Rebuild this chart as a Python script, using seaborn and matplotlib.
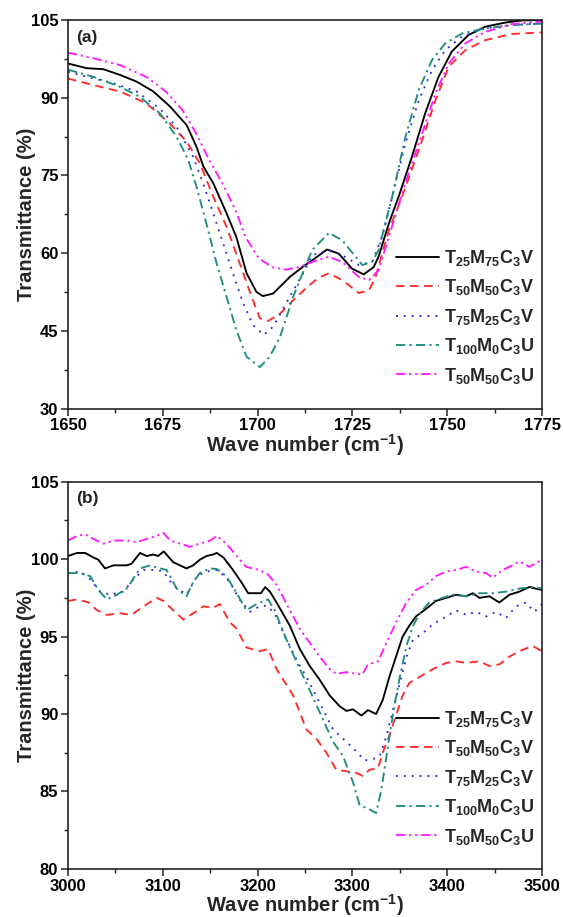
import numpy as np
import pandas as pd
import matplotlib
matplotlib.use("Agg")
import matplotlib.pyplot as plt
from matplotlib.ticker import MultipleLocator
import seaborn as sns

# ---------------- (a) C=O stretching region ----------------
wn_a_black = [1650, 1654.9, 1659.3, 1663.7, 1668.1, 1672.5, 1676.9, 1681.3, 1683.9, 1685.7, 1688.3,
              1691.8, 1694.4, 1697.1, 1699.7, 1701.4, 1704.1, 1708.5, 1712.0, 1714.4, 1718.3, 1721.4,
              1724.9, 1728.0, 1730.6, 1731.9, 1734.6, 1737.2, 1740.7, 1744.2, 1747.7, 1751.2, 1755.6,
              1760.0, 1765.3, 1769.6, 1775]
t_a_black = [96.6, 95.7, 95.5, 94.4, 93.1, 91.2, 88.3, 84.7, 80.5, 76.7, 73.5,
             67.7, 63.1, 56.1, 52.5, 51.7, 52.2, 55.4, 57.4, 58.6, 60.7, 59.9,
             57.0, 55.9, 57.3, 59.3, 65.7, 70.9, 78.6, 87.0, 94.0, 98.9, 102.1,
             103.7, 104.5, 104.9, 105.0]

wn_a_red = [1650, 1656.8, 1663.7, 1670.7, 1676.9, 1681.3, 1684.8, 1688.3, 1691.8, 1695.3, 1698.4,
            1700.6, 1702.8, 1705.9, 1709.4, 1713.3, 1716.0, 1718.8, 1722.3, 1726.7, 1729.4, 1731.1,
            1734.6, 1738.1, 1742.5, 1746.9, 1750.4, 1754.8, 1760.0, 1767.0, 1775]
t_a_red = [93.7, 92.4, 91.2, 88.9, 85.0, 81.5, 77.3, 70.9, 65.1, 58.0, 51.6,
           47.4, 46.9, 48.3, 50.9, 53.6, 55.2, 56.1, 54.8, 52.3, 52.8, 55.4,
           64.4, 70.9, 79.9, 89.5, 96.0, 99.2, 101.1, 102.3, 102.6]

wn_a_blue = [1650, 1656.8, 1662.0, 1668.1, 1674.2, 1678.6, 1683.0, 1685.6, 1688.3, 1690.9, 1693.5,
             1696.2, 1698.8, 1701.6, 1704.1, 1708.5, 1712.0, 1714.4, 1718.8, 1722.3, 1726.7, 1730.2,
             1732.8, 1735.5, 1739.0, 1742.5, 1746.0, 1749.5, 1753.9, 1760.0, 1767.0, 1775]
t_a_blue = [95.0, 93.7, 92.8, 91.2, 87.9, 84.4, 78.6, 73.5, 67.7, 61.9, 56.1,
            50.3, 46.1, 44.2, 45.8, 51.6, 56.1, 59.6, 60.6, 59.6, 57.7, 58.3,
            63.1, 70.9, 81.2, 89.5, 95.3, 99.2, 101.8, 103.4, 104.0, 104.4]

wn_a_teal = [1650, 1656.8, 1663.7, 1668.9, 1674.2, 1678.6, 1681.7, 1683.9, 1686.5, 1689.2, 1691.8,
             1694.4, 1697.1, 1700.6, 1703.2, 1705.9, 1709.4, 1712.9, 1714.4, 1718.8, 1722.3, 1727.6,
             1730.2, 1731.9, 1735.5, 1739.0, 1742.5, 1746.0, 1749.5, 1753.9, 1760.0, 1767.0, 1775]
t_a_teal = [95.4, 94.0, 92.1, 90.2, 87.0, 82.5, 78.0, 72.8, 65.7, 58.0, 51.6,
            45.1, 40.0, 38.0, 40.0, 43.8, 51.6, 58.0, 60.6, 63.9, 62.5, 57.7,
            58.3, 60.6, 70.9, 82.5, 91.5, 97.3, 100.5, 102.4, 103.4, 104.0, 104.3]

wn_a_mag = [1650, 1656.8, 1663.7, 1670.7, 1675.8, 1680.2, 1683.8, 1687.2, 1690.7, 1694.2, 1696.8,
            1700.3, 1703.8, 1707.4, 1710.9, 1714.4, 1718.8, 1722.3, 1726.7, 1729.4, 1731.9, 1734.6,
            1738.1, 1742.5, 1746.9, 1750.4, 1754.8, 1760.0, 1767.0, 1775]
t_a_mag = [98.7, 97.6, 96.3, 94.0, 91.2, 87.6, 83.1, 78.0, 73.5, 68.3, 63.1,
           59.0, 57.3, 56.8, 57.3, 58.3, 59.3, 58.3, 55.4, 54.8, 56.7, 63.1,
           71.5, 81.2, 90.8, 96.6, 100.5, 102.7, 104.2, 104.7]

# ---------------- (b) N-H stretching region ----------------
wn_b_black = [3000, 3009.5, 3018, 3027, 3032, 3039, 3048, 3062, 3067, 3076, 3083, 3090, 3095, 3101,
              3111, 3125, 3132, 3139, 3146, 3153, 3157, 3164, 3174, 3183, 3190, 3199, 3203.5, 3208,
              3213, 3220, 3234, 3244.5, 3255, 3265.6, 3276, 3286.6, 3293.7, 3300.6, 3309.5, 3316.4,
              3325, 3332, 3339, 3346, 3353, 3360, 3367, 3378, 3388, 3399, 3409.5, 3420, 3427, 3434,
              3444.5, 3455, 3465.6, 3476, 3486.6, 3500]
t_b_black = [100.2, 100.4, 100.4, 100.1, 99.96, 99.4, 99.6, 99.6, 99.7, 100.4, 100.2, 100.3, 100.2, 100.5,
             99.8, 99.4, 99.6, 99.96, 100.2, 100.3, 100.4, 100.1, 99.3, 98.5, 97.8, 97.8, 97.8, 98.2,
             97.9, 97.2, 95.7, 94.2, 93.1, 92.2, 91.2, 90.5, 90.2, 90.3, 89.9, 90.25,
             90.0, 90.9, 92.4, 93.7, 95.0, 95.7, 96.3, 96.8, 97.3, 97.5, 97.7, 97.6, 97.8, 97.5,
             97.6, 97.2, 97.7, 97.9, 98.2, 98.0]

wn_b_red = [3000, 3009.5, 3021.7, 3030.5, 3041, 3055, 3067, 3079.6, 3093.7, 3100.6, 3111, 3121.7,
            3132, 3142.7, 3153, 3160, 3171, 3178, 3188, 3202, 3211, 3220, 3237.5, 3251.5, 3262,
            3272.6, 3283, 3293.7, 3304, 3311, 3318, 3327, 3332, 3339, 3346, 3353, 3360, 3371, 3385,
            3399, 3409.5, 3420, 3434, 3444.5, 3455, 3465.6, 3476, 3490, 3500]
t_b_red = [97.3, 97.4, 97.2, 96.7, 96.4, 96.5, 96.4, 96.95, 97.5, 97.3, 96.7, 96.1,
           96.5, 96.95, 96.85, 97.1, 95.9, 95.5, 94.3, 94.05, 94.2, 92.9, 91.2, 89.0, 88.4,
           87.5, 86.4, 86.3, 86.2, 86.0, 86.4, 86.5, 87.5, 88.6, 89.9, 91.2, 92.0, 92.4, 92.9,
           93.3, 93.4, 93.3, 93.4, 93.1, 93.2, 93.7, 94.05, 94.4, 94.05]

wn_b_blue = [3000, 3013, 3023.5, 3034, 3044.5, 3058.5, 3069, 3079.6, 3093.7, 3100.6, 3111, 3125,
             3136, 3146, 3158.5, 3171, 3181, 3192, 3202, 3209.5, 3218, 3230.5, 3241, 3251.5, 3265.6,
             3279.6, 3293.7, 3304, 3313, 3322, 3329, 3336, 3343, 3350, 3357, 3364, 3374, 3385, 3399,
             3409.5, 3420, 3430.5, 3441, 3451.6, 3462, 3472.6, 3483, 3492, 3500]
t_b_blue = [99.1, 99.2, 98.7, 97.9, 97.7, 97.9, 98.7, 99.3, 99.3, 99.2, 98.3, 97.7,
            98.9, 99.2, 99.3, 98.5, 97.4, 96.6, 96.95, 97.0, 96.5, 94.8, 93.5, 92.4, 90.7,
            89.0, 88.2, 87.6, 87.0, 87.1, 87.3, 88.6, 90.3, 92.0, 93.7, 94.8, 95.2, 95.8, 96.3,
            96.7, 96.4, 96.6, 96.3, 96.6, 96.2, 96.95, 97.2, 96.6, 97.1]

wn_b_teal = [3000, 3013, 3023.5, 3032, 3041, 3051.6, 3062, 3076, 3086.6, 3097, 3104, 3114.7, 3125,
             3132, 3139, 3150, 3157, 3167, 3178, 3188, 3199, 3211, 3218, 3230.5, 3244.5, 3251.5,
             3265.6, 3279.6, 3290, 3300.6, 3307.7, 3316.4, 3325, 3330.5, 3336, 3343, 3350, 3357,
             3364, 3371, 3381, 3395, 3406, 3420, 3434, 3448, 3462, 3476, 3490, 3500]
t_b_teal = [99.1, 99.1, 98.9, 98.0, 97.4, 97.7, 98.1, 99.4, 99.6, 99.4, 99.3, 98.1, 97.6,
            98.5, 99.1, 99.4, 99.36, 98.9, 97.8, 96.7, 97.1, 97.4, 96.7, 94.8, 92.9, 92.0,
            90.1, 88.2, 87.3, 85.6, 84.1, 83.9, 83.6, 85.1, 87.3, 90.1, 92.4, 94.4,
            95.7, 96.5, 97.2, 97.5, 97.7, 97.6, 97.8, 97.8, 97.9, 98.1, 98.2, 98.1]

wn_b_mag = [3000, 3009.5, 3018, 3027, 3037.5, 3048, 3062, 3072.6, 3083, 3093.7, 3100.6, 3107.7,
            3118, 3128.7, 3139, 3150, 3157, 3167, 3178, 3188, 3202, 3211, 3220, 3234, 3244.5, 3255,
            3265.6, 3276, 3283, 3293.7, 3304, 3310.5, 3316.4, 3327, 3336, 3346, 3357, 3367, 3378,
            3388, 3399, 3409.5, 3420, 3430.5, 3441, 3448, 3458.5, 3469, 3476, 3486.6, 3500]
t_b_mag = [101.2, 101.5, 101.6, 101.3, 101.0, 101.2, 101.2, 101.1, 101.3, 101.5, 101.7, 101.2,
           101.0, 100.8, 101.0, 101.2, 101.5, 101.0, 100.2, 99.5, 99.3, 99.0, 98.35, 96.7, 95.5, 94.6,
           93.7, 92.9, 92.6, 92.7, 92.6, 92.55, 93.2, 93.4, 94.6, 95.9, 97.2, 98.0, 98.35,
           98.9, 99.2, 99.3, 99.5, 99.2, 99.1, 98.8, 99.3, 99.6, 99.85, 99.5, 99.96]

labels = [r"T$_{25}$M$_{75}$C$_{3}$V", r"T$_{50}$M$_{50}$C$_{3}$V", r"T$_{75}$M$_{25}$C$_{3}$V",
          r"T$_{100}$M$_{0}$C$_{3}$U", r"T$_{50}$M$_{50}$C$_{3}$U"]
colors = ["#000000", "#ff2a2a", "#2a2ae6", "#1f8c80", "#ff1aff"]
dash_styles = [(None, None), (4.5, 3.0), (1.0, 3.2), (5.0, 2.2, 1.2, 2.2), (5.0, 2.0, 1.2, 2.0, 1.2, 2.0)]

sns.set_style("ticks")
plt.rcParams["font.family"] = ["Liberation Sans", "DejaVu Sans"]
plt.rcParams["font.weight"] = "bold"
plt.rcParams["axes.labelweight"] = "bold"
plt.rcParams["mathtext.fontset"] = "custom"
plt.rcParams["mathtext.rm"] = "Liberation Sans:bold"
plt.rcParams["mathtext.it"] = "Liberation Sans:bold"
plt.rcParams["mathtext.bf"] = "Liberation Sans:bold"
plt.rcParams["mathtext.default"] = "rm"

fig = plt.figure(figsize=(5.63, 9.17), dpi=100)
ax_a = fig.add_axes([0.1208, 0.5545, 0.8419, 0.4237])
ax_b = fig.add_axes([0.1208, 0.0525, 0.8419, 0.4222])

series_a = [(wn_a_black, t_a_black), (wn_a_red, t_a_red), (wn_a_blue, t_a_blue),
            (wn_a_teal, t_a_teal), (wn_a_mag, t_a_mag)]
series_b = [(wn_b_black, t_b_black), (wn_b_red, t_b_red), (wn_b_blue, t_b_blue),
            (wn_b_teal, t_b_teal), (wn_b_mag, t_b_mag)]


def draw_panel(ax, series, xlim, ylim, xmaj, xmin, ymaj, ymin, tag, xpad):
    for (wn, tr), lab, col, dsh in zip(series, labels, colors, dash_styles):
        df = pd.DataFrame({"wn": wn, "T": tr})
        sns.lineplot(data=df, x="wn", y="T", ax=ax, color=col, lw=1.35, label=lab,
                     sort=False, estimator=None)
        line = ax.get_lines()[-1]
        if dsh[0] is not None:
            line.set_dashes(dsh)
    ax.set_xlim(*xlim)
    ax.set_ylim(*ylim)
    ax.xaxis.set_major_locator(MultipleLocator(xmaj))
    ax.xaxis.set_minor_locator(MultipleLocator(xmin))
    ax.yaxis.set_major_locator(MultipleLocator(ymaj))
    ax.yaxis.set_minor_locator(MultipleLocator(ymin))
    ax.tick_params(which="major", direction="out", length=5, width=1.1, labelsize=12, pad=2,
                   colors="#222222", labelcolor="black")
    ax.tick_params(which="minor", direction="out", length=2.6, width=1.0, colors="#222222")
    for lbl in ax.get_xticklabels() + ax.get_yticklabels():
        lbl.set_fontweight("bold")
    for sp in ax.spines.values():
        sp.set_visible(True)
        sp.set_linewidth(1.2)
        sp.set_color("#222222")
    ax.set_xlabel(r"Wave number (cm$^{-1}$)", fontsize=14.5, fontweight="bold", labelpad=xpad)
    ax.set_ylabel("Transmittance (%)", fontsize=14.5, fontweight="bold", labelpad=-4)
    ax.text(0.018, 0.975, tag, transform=ax.transAxes, ha="left", va="top",
            fontsize=12.5, fontweight="bold")
    leg = ax.legend(loc="upper left", bbox_to_anchor=(0.692, 0.413), frameon=False,
                    fontsize=13, handlelength=2.4, handletextpad=0.25, labelspacing=0.52,
                    borderaxespad=0, borderpad=0)
    for h in leg.get_lines():
        h.set_linewidth(1.35)


draw_panel(ax_a, series_a, (1650, 1775), (30, 105), 25, 12.5, 15, 7.5, "(a)", -1)
draw_panel(ax_b, series_b, (3000, 3500), (80, 105), 100, 50, 5, 2.5, "(b)", -1.2)

fig.savefig("out.png", dpi=100)
